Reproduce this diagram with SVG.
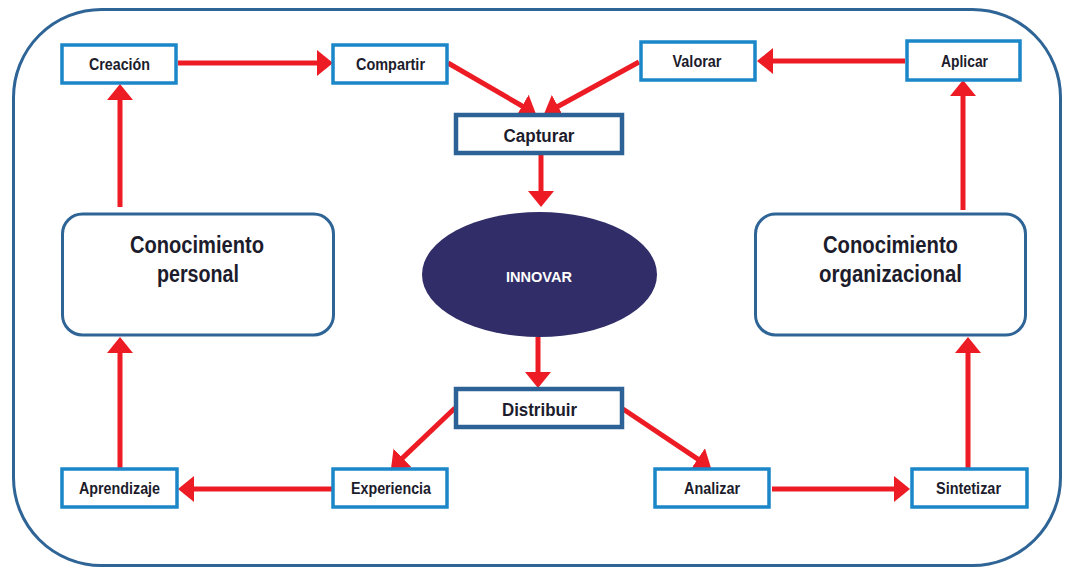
<svg xmlns="http://www.w3.org/2000/svg" width="1070" height="569" viewBox="0 0 1070 569">
<style>
.frame{fill:#fff;stroke:#2e6496;stroke-width:3}
.lb{fill:#fff;stroke:#1b87c9;stroke-width:3.5}
.db{fill:#fff;stroke:#2c6295;stroke-width:4.5}
.big{fill:#fff;stroke:#2e6496;stroke-width:3}
.t{font-family:"Liberation Sans",Arial,sans-serif;font-weight:bold;fill:#1c1c2c;text-anchor:middle}
.s{font-size:16px}
.m{font-size:18px}
.l{font-size:23px}
.w{fill:#fff;font-size:15px}
.c line{stroke:#ed1c24;stroke-width:5;marker-end:url(#ah)}
</style>
<defs>
<marker id="ah" markerUnits="userSpaceOnUse" markerWidth="17" markerHeight="27" refX="6" refY="13" orient="auto">
<path d="M0,0 L16,13 L0,26 z" fill="#ed1c24"/>
</marker>
</defs>
<rect class="frame" x="13.5" y="9.5" width="1047" height="556" rx="88"/>
<g class="c">
<line x1="178" y1="63" x2="323" y2="63"/>
<line x1="905" y1="61" x2="767" y2="61"/>
<line x1="448" y1="63" x2="527.3" y2="109"/>
<line x1="639" y1="62" x2="552.8" y2="109.2"/>
<line x1="541" y1="155" x2="541" y2="197"/>
<line x1="538" y1="337" x2="538" y2="378"/>
<line x1="455" y1="408" x2="398.2" y2="462.1"/>
<line x1="623" y1="409" x2="702.7" y2="462.4"/>
<line x1="333" y1="489" x2="188" y2="489"/>
<line x1="772" y1="489" x2="900" y2="489"/>
<line x1="968" y1="469" x2="968" y2="347"/>
<line x1="963" y1="210" x2="963" y2="90"/>
<line x1="120" y1="207" x2="120" y2="94"/>
<line x1="120" y1="469" x2="120" y2="347"/>
</g>
<g id="creacion"><rect class="lb" x="62" y="45" width="114" height="38"/><text class="t s" x="119.5" y="70" textLength="61" lengthAdjust="spacingAndGlyphs">Creación</text></g>
<g id="compartir"><rect class="lb" x="333" y="45" width="114" height="38"/><text class="t s" x="390.5" y="70" textLength="69" lengthAdjust="spacingAndGlyphs">Compartir</text></g>
<g id="valorar"><rect class="lb" x="641" y="42" width="114" height="38"/><text class="t s" x="697" y="67" textLength="49" lengthAdjust="spacingAndGlyphs">Valorar</text></g>
<g id="aplicar"><rect class="lb" x="907" y="41" width="113" height="39"/><text class="t s" x="964.5" y="67" textLength="47" lengthAdjust="spacingAndGlyphs">Aplicar</text></g>
<g id="capturar"><rect class="db" x="456" y="115" width="166" height="38"/><text class="t m" x="539" y="142" textLength="71" lengthAdjust="spacingAndGlyphs">Capturar</text></g>
<g id="conocimiento-personal"><rect class="big" x="62.5" y="214" width="271" height="121" rx="20"/><text class="t l" x="197" y="253" textLength="134" lengthAdjust="spacingAndGlyphs">Conocimiento</text><text class="t l" x="198" y="282" textLength="82" lengthAdjust="spacingAndGlyphs">personal</text></g>
<g id="innovar"><ellipse cx="539.5" cy="274.5" rx="117.5" ry="62.5" fill="#302d68"/><text class="t w" x="539" y="281.5" textLength="66" lengthAdjust="spacingAndGlyphs">INNOVAR</text></g>
<g id="conocimiento-organizacional"><rect class="big" x="755.5" y="214" width="270" height="121" rx="20"/><text class="t l" x="890.5" y="253" textLength="135" lengthAdjust="spacingAndGlyphs">Conocimiento</text><text class="t l" x="890.5" y="282" textLength="143" lengthAdjust="spacingAndGlyphs">organizacional</text></g>
<g id="distribuir"><rect class="db" x="456" y="389" width="166" height="38"/><text class="t m" x="539.5" y="416" textLength="75" lengthAdjust="spacingAndGlyphs">Distribuir</text></g>
<g id="aprendizaje"><rect class="lb" x="62" y="469" width="115" height="38"/><text class="t s" x="119.5" y="494" textLength="81" lengthAdjust="spacingAndGlyphs">Aprendizaje</text></g>
<g id="experiencia"><rect class="lb" x="333" y="469" width="114" height="38"/><text class="t s" x="391" y="494" textLength="80" lengthAdjust="spacingAndGlyphs">Experiencia</text></g>
<g id="analizar"><rect class="lb" x="655" y="469" width="114" height="38"/><text class="t s" x="712" y="494" textLength="56" lengthAdjust="spacingAndGlyphs">Analizar</text></g>
<g id="sintetizar"><rect class="lb" x="912" y="469" width="115" height="38"/><text class="t s" x="968.5" y="494" textLength="65" lengthAdjust="spacingAndGlyphs">Sintetizar</text></g>
</svg>
